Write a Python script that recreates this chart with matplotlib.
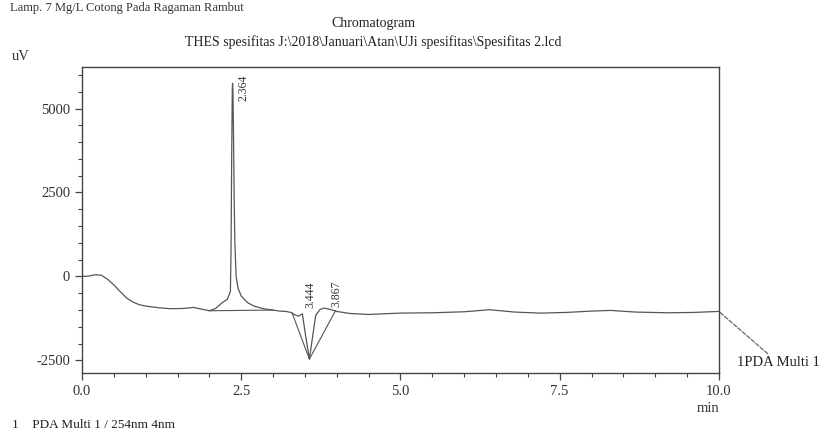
import matplotlib.pyplot as plt
from matplotlib.ticker import MultipleLocator

plt.rcParams['font.family'] = ['Liberation Serif', 'DejaVu Serif']
plt.rcParams['axes.unicode_minus'] = False

# chromatogram trace (minutes, uV)
time_min = [0.00, 0.10, 0.20, 0.30, 0.40, 0.50, 0.60, 0.70, 0.80, 0.90,
            1.00, 1.20, 1.40, 1.60, 1.75, 1.90, 2.00, 2.10, 2.20, 2.28,
            2.33, 2.34, 2.35, 2.36, 2.364, 2.37, 2.38, 2.39, 2.40, 2.42,
            2.45, 2.50, 2.60, 2.70, 2.85, 3.00, 3.10, 3.20, 3.28, 3.35,
            3.40, 3.46, 3.51, 3.57, 3.62, 3.67, 3.74, 3.80, 3.90, 4.00,
            4.20, 4.50, 5.00, 5.50, 6.00, 6.40, 6.80, 7.20, 7.60, 8.00,
            8.30, 8.70, 9.20, 9.60, 10.00]
signal_uv = [0, 10, 50, 40, -80, -250, -450, -640, -760, -840,
             -880, -930, -960, -950, -920, -980, -1020, -950, -780, -680,
             -450, 800, 3500, 5600, 5750, 5500, 4000, 2200, 1000, 0,
             -350, -580, -780, -880, -960, -1000, -1030, -1040, -1070, -1150,
             -1180, -1110, -1750, -2460, -1800, -1150, -980, -940, -980, -1040,
             -1100, -1130, -1090, -1080, -1050, -990, -1060, -1090, -1070, -1030,
             -1010, -1060, -1080, -1070, -1040]

# integration baselines
base1_t = [2.00, 3.00]
base1_v = [-1020, -1000]
base2_t = [3.30, 3.57, 3.98]
base2_v = [-1090, -2460, -1020]

# peak labels
peak_times = [2.364, 3.444, 3.867]
peak_label_t = [2.53, 3.59, 4.00]
peak_label_v = [5220, -940, -900]

fig = plt.figure(figsize=(8.25, 4.34), dpi=100)
ax = fig.add_axes([0.0994, 0.1406, 0.772, 0.705])

line_c = '#555555'
ax.plot(time_min, signal_uv, color=line_c, lw=0.9)
ax.plot(base1_t, base1_v, color=line_c, lw=0.8)
ax.plot(base2_t, base2_v, color=line_c, lw=0.8)

for pt, lt, lv in zip(peak_times, peak_label_t, peak_label_v):
    ax.text(lt, lv, f"{pt:.3f}", rotation=90, ha='center', va='bottom',
            fontsize=8.5, color='#333333')

ax.set_xlim(0, 10)
ax.set_ylim(-2872, 6235)
ax.set_xticks([0, 2.5, 5, 7.5, 10])
ax.set_xticklabels(["0.0", "2.5", "5.0", "7.5", "10.0"])
ax.set_yticks([-2500, 0, 2500, 5000])
ax.xaxis.set_minor_locator(MultipleLocator(0.5))
ax.yaxis.set_minor_locator(MultipleLocator(500))
ax.tick_params(which='major', direction='out', length=5, width=0.9,
               labelsize=10.5, colors='#444444', labelcolor='#333333')
ax.tick_params(which='minor', direction='out', length=3, width=0.8,
               colors='#444444')
for sp in ax.spines.values():
    sp.set_color('#444444')
    sp.set_linewidth(1.0)

# texts around the axes
fig.text(0.452, 1 - 23 / 434, "Chromatogram", ha='center', va='center',
         fontsize=10, color='#222222')
fig.text(0.452, 1 - 42 / 434,
         "THES spesifitas J:\\2018\\Januari\\Atan\\UJi spesifitas\\Spesifitas 2.lcd",
         ha='center', va='center', fontsize=10, color='#222222')
fig.text(12 / 825, 1 - 57 / 434, "uV", ha='left', va='center', fontsize=10.5,
         color='#333333')
fig.text(708 / 825, 1 - 408 / 434, "min", ha='center', va='center',
         fontsize=10.5, color='#333333')
fig.text(12 / 825, 1 - 425 / 434, "1    PDA Multi 1 / 254nm 4nm", ha='left',
         va='center', fontsize=9.5, color='#222222')
fig.text(10 / 825, 1 - 14 / 434, "Lamp. 7 Mg/L Cotong Pada Ragaman Rambut",
         ha='left', va='bottom', fontsize=9, color='#333333')

ax.annotate("1PDA Multi 1", xy=(time_min[-1], signal_uv[-1]),
            xytext=(737 / 825, 1 - 363 / 434), textcoords='figure fraction',
            ha='left', va='center', fontsize=10.5, color='#222222',
            arrowprops=dict(arrowstyle='-', linestyle='--', color='#555555',
                            lw=0.8, shrinkA=0, shrinkB=0),
            annotation_clip=False)

fig.savefig("out.png", dpi=100)
